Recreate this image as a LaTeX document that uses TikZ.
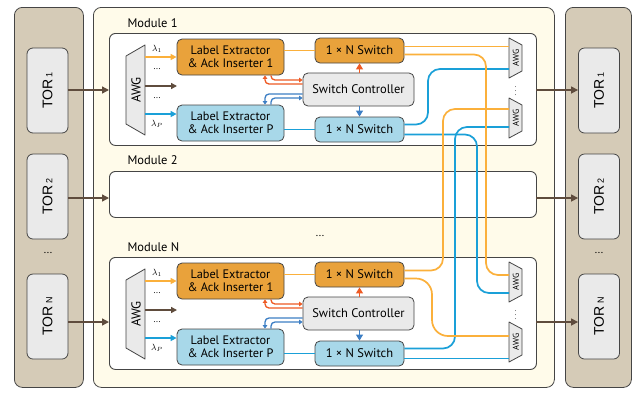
\documentclass[tikz,border=0pt]{standalone}
\usepackage{fontspec}
\setmainfont{PT Sans}
\newfontfamily\torfont{Liberation Sans}
\usetikzlibrary{arrows.meta}

\definecolor{panelTan}{HTML}{D5CBB7}
\definecolor{creamBg}{HTML}{FFFBEA}
\definecolor{boxGray}{HTML}{EAEAEA}
\definecolor{edgeGray}{HTML}{454545}
\definecolor{boxOrange}{HTML}{E9A23B}
\definecolor{boxBlue}{HTML}{A8D8E9}
\definecolor{lineOrange}{HTML}{FBB03B}
\definecolor{lineCyan}{HTML}{1AA0D8}
\definecolor{ctlRed}{HTML}{EE5A24}
\definecolor{ctlBlue}{HTML}{3C7EC4}
\definecolor{feedBrown}{HTML}{5F4C3D}

% one switching module; #1 = name suffix, #2 = top edge
\newcommand\switchmodule[2]{%
  \begin{scope}[yshift=-#2pt]
    \node[modbox, minimum width=427pt, minimum height=112pt] (mod#1) at (109,0) {};
    \node[modlabel] (modlabel#1) at (124,-10) {Module #1};
    % demultiplexing AWG
    \draw[awgshape] (126,23) -- (145,12) -- (145,102) -- (126,91) -- cycle;
    \node[inner sep=0pt, font=\fontsize{13}{13}\selectfont] (awgin#1) at (136,57) {\rotatebox{90}{AWG}};
    \node[lebox, fill=boxOrange] (leA#1) at (230.5,24) {Label Extractor\\\& Ack Inserter 1};
    \node[lebox, fill=boxBlue] (leP#1) at (230.5,90) {Label Extractor\\\& Ack Inserter P};
    \node[swbox, fill=boxOrange] (os#1) at (359.5,17.5) {1 × N Switch};
    \node[ctlbox] (ctl#1) at (358.5,56.5) {Switch Controller};
    \node[swbox, fill=boxBlue] (bs#1) at (359.5,96.5) {1 × N Switch};
    % multiplexing AWGs
    \draw[awgshape] (509,5) -- (522,12) -- (522,38) -- (509,45) -- cycle;
    \node[awgtext] (awgoa#1) at (516,25) {\rotatebox{90}{AWG}};
    \draw[awgshape] (509,65) -- (522,72) -- (522,98) -- (509,105) -- cycle;
    \node[awgtext] (awgob#1) at (516,85) {\rotatebox{90}{AWG}};
    \node[inner sep=0pt, font=\fontsize{7}{7}\selectfont] (vd#1) at (515.5,55) {$\vdots$};
    % wavelength outputs of the AWG
    \coordinate (wA#1) at (145,24);
    \coordinate (wM#1) at (145,53);
    \coordinate (wMe#1) at (177,53);
    \coordinate (wP#1) at (145,81);
    \draw[wave, draw=lineOrange, fill=lineOrange] (wA#1) -- (leA#1.west);
    \draw[wave, draw=feedBrown, fill=feedBrown] (wM#1) -- (wMe#1);
    \draw[wave, draw=lineCyan, fill=lineCyan] (wP#1) -- (wP#1 -| leP#1.west);
    \node[lam] (lamA#1) at (157,16) {$\lambda_{1}$};
    \node[lam] (dA#1) at (157,36) {...};
    \node[lam] (dB#1) at (157,65) {...};
    \node[lam] (lamP#1) at (157,91) {$\lambda_{P}$};
    % extractor to switch
    \draw[oline] (leA#1.east |- os#1.east) -- (os#1.east -| os#1.west);
    \draw[bline] (leP#1.east |- bs#1.west) -- (bs#1.west);
    % label / ack paths to the controller
    \draw[ctlarrow, ctlRed] ([xshift=40.5pt]leA#1.south) |- ([yshift=9.5pt]ctl#1.west);
    \draw[ctlarrow, ctlRed] ([yshift=5.5pt]ctl#1.west) -| ([xshift=34.5pt]leA#1.south);
    \draw[ctlarrow, ctlBlue] ([yshift=-4.5pt]ctl#1.west) -| ([xshift=34.5pt]leP#1.north);
    \draw[ctlarrow, ctlBlue] ([xshift=40.5pt]leP#1.north) |- ([yshift=-8.5pt]ctl#1.west);
    % controller to switches
    \draw[swarrow, ctlRed] (os#1.south |- ctl#1.north) -- (os#1.south);
    \draw[swarrow, ctlBlue] (bs#1.north |- ctl#1.south) -- (bs#1.north);
  \end{scope}
}

\begin{document}
\begin{tikzpicture}[x=1pt, y=-1pt,
  panel/.style={draw=edgeGray, line width=0.8pt, rounded corners=8pt, anchor=north west},
  torbox/.style={draw=edgeGray, fill=boxGray, line width=0.8pt, rounded corners=6pt,
    minimum width=41pt, minimum height=85pt, inner sep=0pt, font=\torfont\fontsize{14}{14}\selectfont},
  modbox/.style={draw=edgeGray, fill=white, line width=0.9pt, rounded corners=6pt, anchor=north west},
  modlabel/.style={anchor=west, font=\fontsize{12.5}{13}\selectfont},
  lebox/.style={draw=edgeGray, line width=0.8pt, rounded corners=5pt, minimum width=107pt,
    minimum height=36pt, inner sep=1pt, align=center, font=\fontsize{12.3}{13}\selectfont},
  swbox/.style={draw=edgeGray, line width=0.8pt, rounded corners=5pt, minimum width=89pt,
    minimum height=25pt, inner sep=1pt, font=\fontsize{12.5}{13}\selectfont},
  ctlbox/.style={draw=edgeGray, fill=boxGray, line width=0.8pt, rounded corners=5pt, minimum width=111pt,
    minimum height=33pt, inner sep=1pt, font=\fontsize{12.5}{13}\selectfont},
  awgshape/.style={draw=edgeGray, fill=boxGray, line width=0.8pt, line join=round},
  awgtext/.style={inner sep=0pt, font=\fontsize{8.5}{8.5}\selectfont},
  wave/.style={line width=1.4pt, -{Triangle[length=6pt,width=6pt]}},
  lam/.style={font=\fontsize{9}{9}\selectfont, inner sep=0pt},
  oline/.style={draw=lineOrange, line width=1.7pt, rounded corners=12pt},
  bline/.style={draw=lineCyan, line width=1.7pt, rounded corners=12pt},
  ctlarrow/.style={line width=1.3pt, rounded corners=4pt, -{Triangle[length=3.5pt,width=4.5pt]}},
  swarrow/.style={line width=1pt, -{Triangle[length=6pt,width=7pt]}},
  feed/.style={draw=feedBrown, line width=1.4pt, -{Triangle[length=7pt,width=7pt]}},
  dots/.style={font=\fontsize{11}{11}\selectfont}
]
\useasboundingbox (0,0) rectangle (636,392);

% background panels
\node[panel, fill=panelTan, minimum width=69pt, minimum height=380pt] (torsIn) at (14,7) {};
\node[panel, fill=creamBg, minimum width=461pt, minimum height=380pt] (fabric) at (93,7) {};
\node[panel, fill=panelTan, minimum width=66pt, minimum height=380pt] (torsOut) at (565,7) {};

% top-of-rack switches
\node[torbox] (torL1) at (47.5,90.5) {\rotatebox{90}{TOR\,{\fontsize{9}{9}\selectfont 1}}};
\node[torbox] (torL2) at (47.5,196.5) {\rotatebox{90}{TOR\,{\fontsize{9}{9}\selectfont 2}}};
\node[torbox] (torLN) at (47.5,316.5) {\rotatebox{90}{TOR\,{\fontsize{9}{9}\selectfont N}}};
\node[dots] (dotsL) at (48,253) {...};
\node[torbox] (torR1) at (599,90.5) {\rotatebox{90}{TOR\,{\fontsize{9}{9}\selectfont 1}}};
\node[torbox] (torR2) at (599,196.5) {\rotatebox{90}{TOR\,{\fontsize{9}{9}\selectfont 2}}};
\node[torbox] (torRN) at (599,316.5) {\rotatebox{90}{TOR\,{\fontsize{9}{9}\selectfont N}}};
\node[dots] (dotsR) at (599,253) {...};

% modules
\switchmodule{1}{33}
\node[modbox, minimum width=427pt, minimum height=46pt] (mod2) at (109,171) {};
\node[modlabel] (modlabel2) at (124,160) {Module 2};
\node[dots] (dotsM) at (320,236) {...};
\switchmodule{N}{257}

% fibre connections between modules
\coordinate (aoA1) at (509,46.5);
\coordinate (abA1) at (509,69);
\coordinate (aoB1) at (509,109);
\coordinate (abB1) at (509,127);
\coordinate (aoAN) at (509,275);
\coordinate (abAN) at (509,293);
\coordinate (aoBN) at (509,336);
\coordinate (abBN) at (509,358.5);

\draw[oline] ([yshift=4pt]os1.east) -- (aoA1);
\draw[bline] ([yshift=5pt]bs1.east) -| ([xshift=-81pt]abA1) -- (abA1);
\draw[bline] ([yshift=5pt]bsN.east) -| ([xshift=-54pt]abB1) -- (abB1);
\draw[bline] ([yshift=-5pt]bs1.east) -| ([xshift=-32pt]abAN) -- (abAN);
\draw[oline] ([yshift=4pt]osN.east) -| ([xshift=-66pt]aoB1) -- (aoB1);
\draw[oline] ([yshift=-4pt]os1.east) -| ([xshift=-23pt]aoAN) -- (aoAN);
\draw[oline, rounded corners=16pt] ([yshift=-4pt]osN.east) -| ([xshift=-77pt]aoBN) -- (aoBN);
\draw[bline] ([yshift=-5pt]bsN.east) -- (abBN);

% TOR links
\coordinate (in1) at (109,90);
\coordinate (in2) at (109,198);
\coordinate (inN) at (109,322);
\coordinate (out1) at (536,90);
\coordinate (out2) at (536,198);
\coordinate (outN) at (536,322);
\draw[feed] (torL1.east |- in1) -- (in1);
\draw[feed] (torL2.east |- in2) -- (in2);
\draw[feed] (torLN.east |- inN) -- (inN);
\draw[feed] (out1) -- (out1 -| torR1.west);
\draw[feed] (out2) -- (out2 -| torR2.west);
\draw[feed] (outN) -- (outN -| torRN.west);
\end{tikzpicture}
\end{document}
